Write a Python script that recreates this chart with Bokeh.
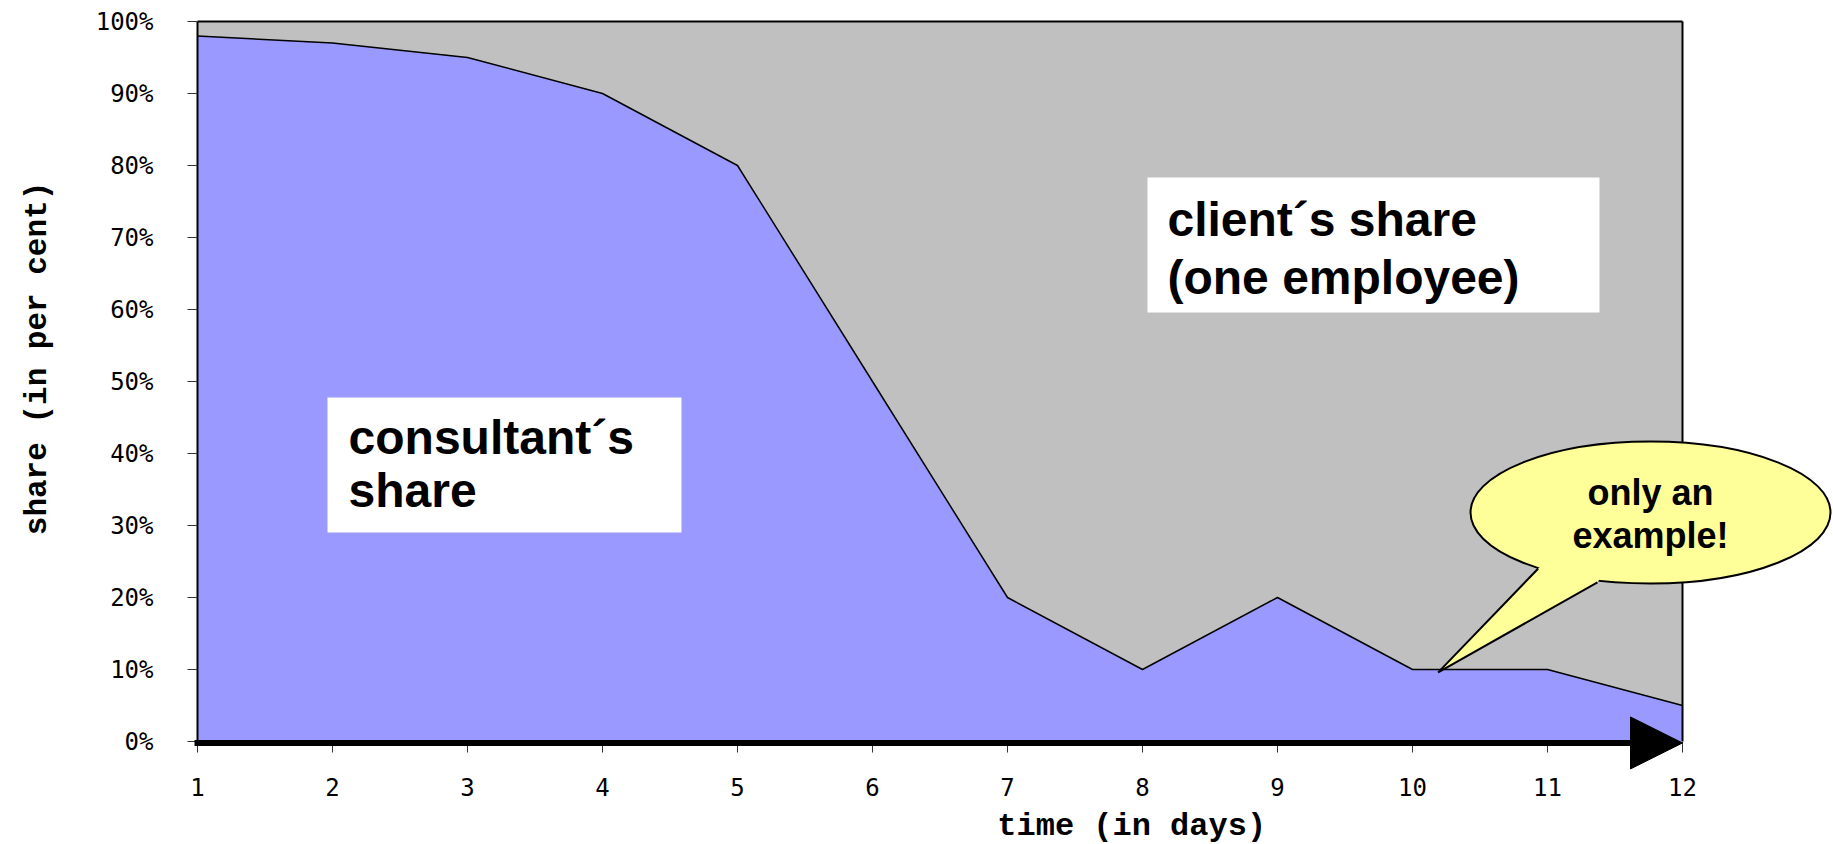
import math
from bokeh.plotting import figure
from bokeh.models import Range1d, FixedTicker, Arrow, NormalHead
from bokeh.embed import file_html
from bokeh.resources import INLINE
from bokeh.core.properties import value

# ---- data ----
days = [1, 2, 3, 4, 5, 6, 7, 8, 9, 10, 11, 12]
consultant_share = [98, 97, 95, 90, 80, 50, 20, 10, 20, 10, 10, 5]
x_tick_labels = ["1", "2", "3", "4", "5", "6", "7", "8", "9", "10", "11", "12"]
y_ticks = [0, 10, 20, 30, 40, 50, 60, 70, 80, 90, 100]
y_tick_labels = ["0%", "10%", "20%", "30%", "40%", "50%", "60%", "70%", "80%", "90%", "100%"]
x_title = "time (in days)"
y_title = "share (in per cent)"
consultant_lines = ["consultant\u00b4s", "share"]
client_lines = ["client\u00b4s share", "(one employee)"]
callout_lines = ["only an", "example!"]

# ---- geometry / style ----
W, H = 1833, 844
PX_PER_DAY = 135.0
PX_PER_PCT = 7.2
ORIGIN_X, ORIGIN_Y = 197, 741          # pixel position of (day 1, 0 %)
X_START = 1 - ORIGIN_X / PX_PER_DAY
X_END = 1 + (W - ORIGIN_X) / PX_PER_DAY
Y_START = -(H - ORIGIN_Y) / PX_PER_PCT
Y_END = ORIGIN_Y / PX_PER_PCT

BLUE = "#9999FF"
GREY = "#C0C0C0"
YELLOW = "#FFFF99"
TICK_FONT = "DejaVu Sans Mono"
TITLE_FONT = "Liberation Mono"
BOX_FONT = "Liberation Sans"

p = figure(width=W, height=H,
           x_range=Range1d(X_START, X_END), y_range=Range1d(Y_START, Y_END),
           output_backend="svg", toolbar_location=None, min_border=0)
p.outline_line_color = None
p.background_fill_color = "white"
p.border_fill_color = "white"
p.xgrid.visible = False
p.ygrid.visible = False

first, last = days[0], days[-1]
top = max(y_ticks)

# grey client area and blue consultant area
p.quad(left=[first], right=[last], bottom=[0], top=[top], fill_color=GREY, line_color=None)
p.varea(x=days, y1=[0] * len(days), y2=consultant_share, fill_color=BLUE)
p.line(days, consultant_share, line_color="black", line_width=1.5)
# borders
p.line([first, last], [top, top], line_color="black", line_width=2)
p.line([last, last], [0, top], line_color="black", line_width=2)

# white text boxes
p.quad(left=[1.963, 8.037], right=[4.585, 11.385], bottom=[29.03, 59.58], top=[47.78, 78.33],
       fill_color="white", line_color=None)
p.text(x=[2.119, 2.119], y=[42.29, 34.9], text=consultant_lines,
       text_font=value(BOX_FONT), text_font_style="bold", text_font_size="48px",
       text_align="left", text_baseline="alphabetic", text_color="black")
p.text(x=[8.185, 8.185], y=[72.5, 64.5], text=client_lines,
       text_font=value(BOX_FONT), text_font_style="bold", text_font_size="48px",
       text_align="left", text_baseline="alphabetic", text_color="black")

# callout
ell_x, ell_y = 11.763, 31.8
ell_w, ell_h = 360 / PX_PER_DAY, 142 / PX_PER_PCT
tip = (10.19, 9.6)
base_l = (10.93, 24.0)
base_r = (11.37, 22.1)
p.ellipse(x=[ell_x], y=[ell_y], width=[ell_w], height=[ell_h],
          fill_color=YELLOW, line_color="black", line_width=2)
p.patch([tip[0], base_l[0], 11.1, 11.5, base_r[0]], [tip[1], base_l[1], 27.0, 26.0, base_r[1]],
        fill_color=YELLOW, line_color=None)
p.line([base_l[0], tip[0], base_r[0]], [base_l[1], tip[1], base_r[1]], line_color="black", line_width=2)
p.text(x=[ell_x, ell_x], y=[34.63, 28.65], text=callout_lines,
       text_font=value(BOX_FONT), text_font_style="bold", text_font_size="36px",
       text_align="center", text_baseline="alphabetic", text_color="black")

# time arrow along the bottom
p.add_layout(Arrow(x_start=0.978, y_start=-0.2, x_end=last, y_end=-0.2,
                   line_color="black", line_width=6,
                   end=NormalHead(size=52, fill_color="black", line_color="black", line_width=1)))

# axes (fixed at the data origin)
p.xaxis.fixed_location = 0
p.xaxis.bounds = (first, last)
p.xaxis.ticker = FixedTicker(ticks=days)
p.xaxis.major_label_overrides = {d: t for d, t in zip(days, x_tick_labels)}
p.xaxis.axis_line_color = None
p.xaxis.major_tick_out = 11
p.xaxis.major_tick_in = 0
p.xaxis.minor_tick_line_color = None
p.xaxis.major_tick_line_color = "#333333"
p.xaxis.major_label_standoff = 25
p.xaxis.major_label_text_font = TICK_FONT
p.xaxis.major_label_text_font_size = "24px"
p.xaxis.major_label_text_color = "black"

p.yaxis.fixed_location = first
p.yaxis.bounds = (0, top)
p.yaxis.ticker = FixedTicker(ticks=y_ticks)
p.yaxis.major_label_overrides = {t: l for t, l in zip(y_ticks, y_tick_labels)}
p.yaxis.axis_line_color = "black"
p.yaxis.axis_line_width = 2
p.yaxis.major_tick_out = 10
p.yaxis.major_tick_in = 0
p.yaxis.minor_tick_line_color = None
p.yaxis.major_tick_line_color = "#333333"
p.yaxis.major_label_standoff = 34
p.yaxis.major_label_text_font = TICK_FONT
p.yaxis.major_label_text_font_size = "24px"
p.yaxis.major_label_text_color = "black"

# axis titles
p.text(x=[7.92], y=[-11.8], text=[x_title], text_align="center", text_baseline="middle",
       text_font=value(TITLE_FONT), text_font_style="bold", text_font_size="32px",
       text_color="black")
p.text(x=[-0.185], y=[53.2], text=[y_title], angle=math.pi / 2,
       text_align="center", text_baseline="middle",
       text_font=value(TITLE_FONT), text_font_style="bold", text_font_size="31px",
       text_color="black")

open("out.html", "w").write(file_html(p, INLINE))
